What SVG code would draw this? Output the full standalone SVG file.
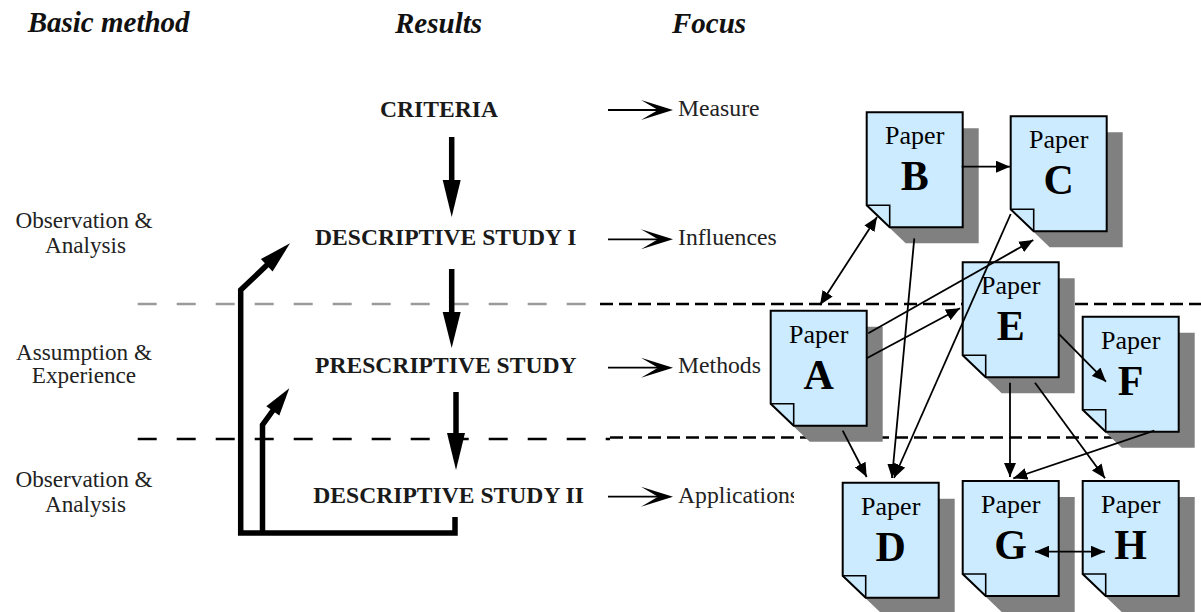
<svg xmlns="http://www.w3.org/2000/svg" xmlns:xlink="http://www.w3.org/1999/xlink" width="1201" height="612" viewBox="0 0 1201 612">
  <style>
    .hdr { font-family: "Liberation Serif", "Times New Roman", serif; font-size: 29px; font-weight: bold; font-style: italic; fill: #111; }
    .stage { font-family: "Liberation Serif", "Times New Roman", serif; font-size: 23.6px; font-weight: bold; fill: #1a1a1a; }
    .lbl { font-family: "Liberation Serif", "Times New Roman", serif; font-size: 23.7px; fill: #222; }
    .side { font-family: "Liberation Serif", "Times New Roman", serif; font-size: 23.2px; fill: #222; text-anchor: middle; }
    .ptxt { font-family: "Liberation Serif", "Times New Roman", serif; font-size: 26px; fill: #000; text-anchor: middle; }
    .pid { font-family: "Liberation Serif", "Times New Roman", serif; font-size: 42px; font-weight: bold; fill: #000; text-anchor: middle; }
    .sheet { fill: #CCEBFF; stroke: #000; stroke-width: 2; stroke-linejoin: miter; }
    .shadow { fill: #808080; stroke: none; }
    .fold { fill: none; stroke: #000; stroke-width: 1.6; }
    .thick { fill: none; stroke: #000; stroke-width: 5.5; stroke-linejoin: miter; stroke-linecap: butt; }
    .link { fill: none; stroke: #000; stroke-width: 1.8; }
    .dashG { fill: none; stroke: #9a9a9a; stroke-width: 2.5; stroke-dasharray: 19 20; }
    .dashK { fill: none; stroke: #000; stroke-width: 2.5; stroke-dasharray: 19 20; }
    .dashR { fill: none; stroke: #000; stroke-width: 2.5; stroke-dasharray: 13 6; }
  </style>
  <defs>
    <!-- dog-eared page outline, 96 x 115, folded bottom-left corner -->
    <path id="page" d="M0,0 H96 V115 H23 L0,93 Z"/>
    <path id="ear" d="M0,93 H23 V115"/>
    <marker id="tri" viewBox="0 0 14 12" refX="14" refY="6" markerWidth="14" markerHeight="12" markerUnits="userSpaceOnUse" orient="auto-start-reverse">
      <path d="M0,0 L14,6 L0,12 Z" fill="#000"/>
    </marker>
    <clipPath id="clipApp">
      <rect x="670" y="470" width="124" height="45"/>
    </clipPath>
  </defs>

  <!-- column headings -->
  <g id="headings">
    <text class="hdr" x="27.7" y="32">Basic method</text>
    <text class="hdr" x="395" y="33">Results</text>
    <text class="hdr" x="672" y="33">Focus</text>
  </g>

  <!-- phase separators -->
  <g id="separators">
    <line class="dashG" x1="137.7" y1="304" x2="600" y2="304"/>
    <line class="dashR" x1="600" y1="304" x2="1201" y2="304"/>
    <line class="dashK" x1="137.7" y1="439" x2="610" y2="439"/>
    <line class="dashR" x1="610" y1="437.5" x2="1188" y2="437.5"/>
  </g>

  <!-- basic method labels -->
  <g id="method-labels">
    <text class="side" x="84" y="228.3">Observation &amp;</text>
    <text class="side" x="85.5" y="253.3">Analysis</text>
    <text class="side" x="84" y="359.5">Assumption &amp;</text>
    <text class="side" x="84" y="383">Experience</text>
    <text class="side" x="84" y="486.7">Observation &amp;</text>
    <text class="side" x="85.5" y="511.7">Analysis</text>
  </g>

  <!-- research stages -->
  <g id="stage-criteria"><text class="stage" x="380" y="116.7">CRITERIA</text></g>
  <g id="stage-ds1"><text class="stage" x="315" y="245">DESCRIPTIVE STUDY I</text></g>
  <g id="stage-ps"><text class="stage" x="315" y="373.3">PRESCRIPTIVE STUDY</text></g>
  <g id="stage-ds2"><text class="stage" x="313.3" y="502.7">DESCRIPTIVE STUDY II</text></g>

  <!-- focus of each stage -->
  <g id="focus-labels">
    <text class="lbl" x="678" y="116">Measure</text>
    <text class="lbl" x="678" y="245">Influences</text>
    <text class="lbl" x="678" y="373.3">Methods</text>
    <text class="lbl" x="678" y="502.7" clip-path="url(#clipApp)">Applications</text>
  </g>

  <!-- flow between stages -->
  <g id="stage-connectors">
    <!-- downward arrows -->
    <line class="thick" x1="451.7" y1="137" x2="451.7" y2="185"/>
    <polygon points="442.7,180 460.7,180 451.7,217" fill="#000"/>
    <line class="thick" x1="451.7" y1="269" x2="451.7" y2="318"/>
    <polygon points="442.7,312 460.7,312 451.7,348" fill="#000"/>
    <line class="thick" x1="456" y1="392" x2="456" y2="438"/>
    <polygon points="447,433 465,433 456,470" fill="#000"/>

    <!-- feedback loops -->
    <polyline class="thick" points="455,517 455,533 240.7,533 240.7,290 268,264"/>
    <polygon points="272.6,271.5 260.9,259.1 290,243.3" fill="#000"/>
    <polyline class="thick" points="262.5,533 262.5,425 274,409"/>
    <polygon points="279.3,415.6 266.3,406.2 289.3,388.3" fill="#000"/>

    <!-- focus arrows -->
    <line class="link" x1="608" y1="110" x2="660" y2="110" stroke-width="2"/>
    <polygon points="673,110 641,100 658,110 641,120" fill="#000"/>
    <line class="link" x1="608" y1="239.3" x2="660" y2="239.3" stroke-width="2"/>
    <polygon points="673,239.3 641,229.3 658,239.3 641,249.3" fill="#000"/>
    <line class="link" x1="608" y1="367.7" x2="660" y2="367.7" stroke-width="2"/>
    <polygon points="673,367.7 641,357.7 658,367.7 641,377.7" fill="#000"/>
    <line class="link" x1="608" y1="496.7" x2="660" y2="496.7" stroke-width="2"/>
    <polygon points="673,496.7 641,486.7 658,496.7 641,506.7" fill="#000"/>
  </g>

  <!-- papers -->
  <g id="paper-A" transform="translate(770.7,310.7)">
    <use xlink:href="#page" href="#page" class="shadow" x="16" y="16"/>
    <use xlink:href="#page" href="#page" class="sheet"/>
    <use xlink:href="#ear" href="#ear" class="fold"/>
    <text class="ptxt" x="48" y="32">Paper</text>
    <text class="pid" x="48" y="78">A</text>
  </g>
  <g id="paper-B" transform="translate(866.7,112.3)">
    <use xlink:href="#page" href="#page" class="shadow" x="16" y="16"/>
    <use xlink:href="#page" href="#page" class="sheet"/>
    <use xlink:href="#ear" href="#ear" class="fold"/>
    <text class="ptxt" x="48" y="32">Paper</text>
    <text class="pid" x="48" y="78">B</text>
  </g>
  <g id="paper-C" transform="translate(1010.7,116.3)">
    <use xlink:href="#page" href="#page" class="shadow" x="16" y="16"/>
    <use xlink:href="#page" href="#page" class="sheet"/>
    <use xlink:href="#ear" href="#ear" class="fold"/>
    <text class="ptxt" x="48" y="32">Paper</text>
    <text class="pid" x="48" y="78">C</text>
  </g>
  <g id="paper-D" transform="translate(842.7,482.7)">
    <use xlink:href="#page" href="#page" class="shadow" x="16" y="16"/>
    <use xlink:href="#page" href="#page" class="sheet"/>
    <use xlink:href="#ear" href="#ear" class="fold"/>
    <text class="ptxt" x="48" y="32">Paper</text>
    <text class="pid" x="48" y="78">D</text>
  </g>
  <g id="paper-E" transform="translate(962.7,262.3)">
    <use xlink:href="#page" href="#page" class="shadow" x="16" y="16"/>
    <use xlink:href="#page" href="#page" class="sheet"/>
    <use xlink:href="#ear" href="#ear" class="fold"/>
    <text class="ptxt" x="48" y="32">Paper</text>
    <text class="pid" x="48" y="78">E</text>
  </g>
  <g id="paper-F" transform="translate(1082.7,316.7)">
    <use xlink:href="#page" href="#page" class="shadow" x="16" y="16"/>
    <use xlink:href="#page" href="#page" class="sheet"/>
    <use xlink:href="#ear" href="#ear" class="fold"/>
    <text class="ptxt" x="48" y="32">Paper</text>
    <text class="pid" x="48" y="78">F</text>
  </g>
  <g id="paper-G" transform="translate(962.7,481)">
    <use xlink:href="#page" href="#page" class="shadow" x="16" y="16"/>
    <use xlink:href="#page" href="#page" class="sheet"/>
    <use xlink:href="#ear" href="#ear" class="fold"/>
    <text class="ptxt" x="48" y="32">Paper</text>
    <text class="pid" x="48" y="78">G</text>
  </g>
  <g id="paper-H" transform="translate(1082.7,481)">
    <use xlink:href="#page" href="#page" class="shadow" x="16" y="16"/>
    <use xlink:href="#page" href="#page" class="sheet"/>
    <use xlink:href="#ear" href="#ear" class="fold"/>
    <text class="ptxt" x="48" y="32">Paper</text>
    <text class="pid" x="48" y="78">H</text>
  </g>

  <!-- citation links between papers -->
  <g id="paper-links">
    <line class="link" x1="820" y1="305" x2="877" y2="217" marker-start="url(#tri)" marker-end="url(#tri)"/>
    <line class="link" x1="961.7" y1="166.7" x2="1010" y2="166.7" marker-end="url(#tri)"/>
    <line class="link" x1="914.3" y1="238.3" x2="892" y2="478" marker-end="url(#tri)"/>
    <line class="link" x1="1010.7" y1="214" x2="894" y2="478" marker-end="url(#tri)"/>
    <line class="link" x1="868.3" y1="333.3" x2="1033.3" y2="240" marker-end="url(#tri)"/>
    <line class="link" x1="866.7" y1="358.3" x2="960" y2="308.3" marker-end="url(#tri)"/>
    <line class="link" x1="842.7" y1="430.7" x2="866.7" y2="477" marker-end="url(#tri)"/>
    <line class="link" x1="1058.3" y1="333.3" x2="1106" y2="381.7" marker-end="url(#tri)"/>
    <line class="link" x1="1010" y1="382.7" x2="1010" y2="477" marker-end="url(#tri)"/>
    <line class="link" x1="1035" y1="382.7" x2="1105" y2="478.3" marker-end="url(#tri)"/>
    <line class="link" x1="1154.3" y1="430.7" x2="1013.3" y2="478.3" marker-end="url(#tri)"/>
    <line class="link" x1="1035" y1="551.7" x2="1105" y2="551.7" marker-start="url(#tri)" marker-end="url(#tri)"/>
  </g>
</svg>
